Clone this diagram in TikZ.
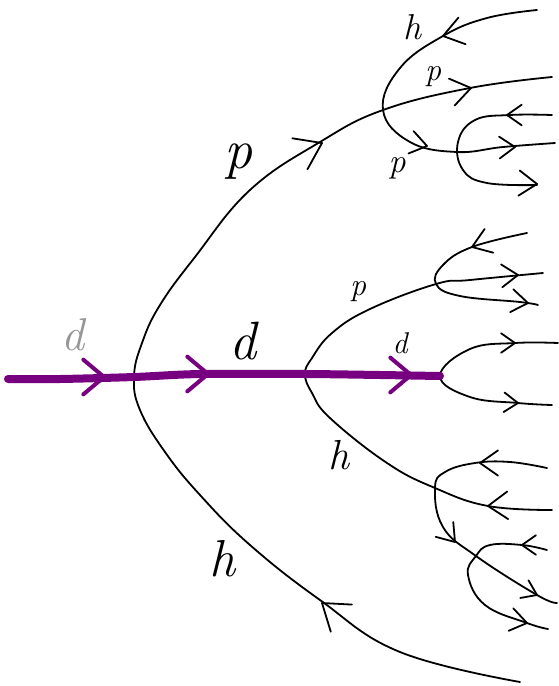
\documentclass[tikz,border=0pt]{standalone}
\usepackage{fontspec}
\usepackage{graphicx}
\definecolor{dpurple}{RGB}{118,0,128}
\definecolor{lgray}{RGB}{150,150,150}
\tikzset{
  curve/.style={line width=1.8pt, line cap=round, line join=round},
  dline/.style={line width=8pt, dpurple, line cap=round, line join=round},
  pics/chev/.style={code={\draw[pic actions, line cap=round, line join=round] (-145:1) -- (0,0) -- (145:1);}},
  pics/pchev/.style={code={\draw[pic actions, line cap=round, line join=round] (-140:1) -- (0,0) -- (140:1);}},
  bchev/.style={line width=1.8pt, black},
  vchev/.style={line width=4pt, dpurple},
  lbl/.style={inner sep=0pt, black},
  sm/.style={smooth, tension=0.7},
}
\newcommand{\chv}[4]{\pic[bchev, rotate=#3, scale=#4] at (#1,#2) {chev};}
\newcommand{\pchv}[3]{\pic[vchev, rotate=#3, scale=27] at (#1,#2) {pchev};}
\newcommand{\lt}[2]{{\fontsize{#1}{#1}\selectfont\itshape #2}}
\begin{document}
\begin{tikzpicture}[x=1pt, y=-1pt]
\useasboundingbox (0,0) rectangle (559,686);
% key points
\coordinate (din) at (8,379);
\coordinate (A) at (134,377);
\coordinate (B) at (305,374);
\coordinate (C) at (440,376);
\coordinate (D) at (383,110);
\coordinate (E) at (457,152);
\coordinate (F) at (436,284);
\coordinate (G) at (435,488);
\coordinate (H) at (476,556);
% big parabola (p up, h down)
\draw[curve] plot[sm] coordinates {(552,77) (470,88) (D) (320,142) (250,190) (195,257) (160,305) (142,343) (A) (140,410) (165,452) (200,495) (250,545) (320,600) (400,652) (520,682)};
% top sub-parabola at D
\draw[curve] plot[sm] coordinates {(537,10) (487,18) (443,36) (400,68) (D) (410,142) (E) (503,147) (555,143)};
% top sub-sub at E
\draw[curve] plot[sm] coordinates {(552,115) (510,115) (475,120) (458,142) (463,170) (487,183) (537,185)};
% middle parabola at B
\draw[curve] plot[sm] coordinates {(543,273) (470,280) (F) (370,309) (332,333) (312,358) (B) (312,393) (330,418) (387,463) (G) (488,506) (552,510)};
% sub at F
\draw[curve] plot[sm] coordinates {(527,233) (472,247) (443,265) (F) (460,296) (520,302) (538,305)};
% small at C
\draw[curve] plot[sm] coordinates {(558,343) (515,343) (470,349) (C) (470,397) (518,403) (552,405)};
% sub at G
\draw[curve] plot[sm] coordinates {(547,468) (510,462) (475,463) (445,472) (G) (443,527) (H) (537,595) (557,603)};
% sub at H
\draw[curve] plot[sm] coordinates {(547,550) (522,545) (490,545) (H) (468,575) (485,605) (527,623) (548,629)};
% purple d-line
\draw[dline] plot[smooth, tension=0.5] coordinates {(din) (60,379) (A) (200,374) (B) (380,375) (C)};
\pchv{104}{377}{0}
\pchv{208}{374}{0}
\pchv{411}{375}{0}
% black chevrons
\chv{322}{143}{26}{30}
\chv{471}{88}{12}{24}
\chv{443}{36}{195}{24}
\chv{427}{146}{-13}{20}
\chv{515}{147}{2}{19}
\chv{507}{115}{180}{18}
\chv{537}{184}{-3}{22}
\chv{472}{247}{200}{22}
\chv{518}{275}{3}{20}
\chv{528}{303}{-8}{20}
\chv{515}{343}{0}{17}
\chv{518}{403}{-3}{17}
\chv{480}{463}{180}{22}
\chv{488}{506}{182}{24}
\chv{455}{542}{-50}{20}
\chv{522}{545}{180}{17}
\chv{537}{595}{-25}{17}
\chv{527}{623}{-12}{20}
\chv{322}{603}{142}{30}
% labels
\node[lbl, lgray] (ld1) at (73,335) {\lt{46}{d}};
\node[lbl] (ld2) at (243,341) {\lt{54}{d}};
\node[lbl] (ld3) at (400,343) {\lt{30}{d}};
\node[lbl] (lp1) at (238,162) {\lt{56}{p}};
\node[lbl] (lp2) at (358,292) {\lt{32}{p}};
\node[lbl] (lp3) at (433,77) {\lt{32}{p}};
\node[lbl] (lp4) at (397,168) {\lt{34}{p}};
\node[lbl] (lh1) at (412,27) {\lt{36}{h}};
\node[lbl] (lh2) at (339,455) {\lt{42}{h}};
\node[lbl] (lh3) at (222,559) {\lt{52}{h}};
\end{tikzpicture}
\end{document}
